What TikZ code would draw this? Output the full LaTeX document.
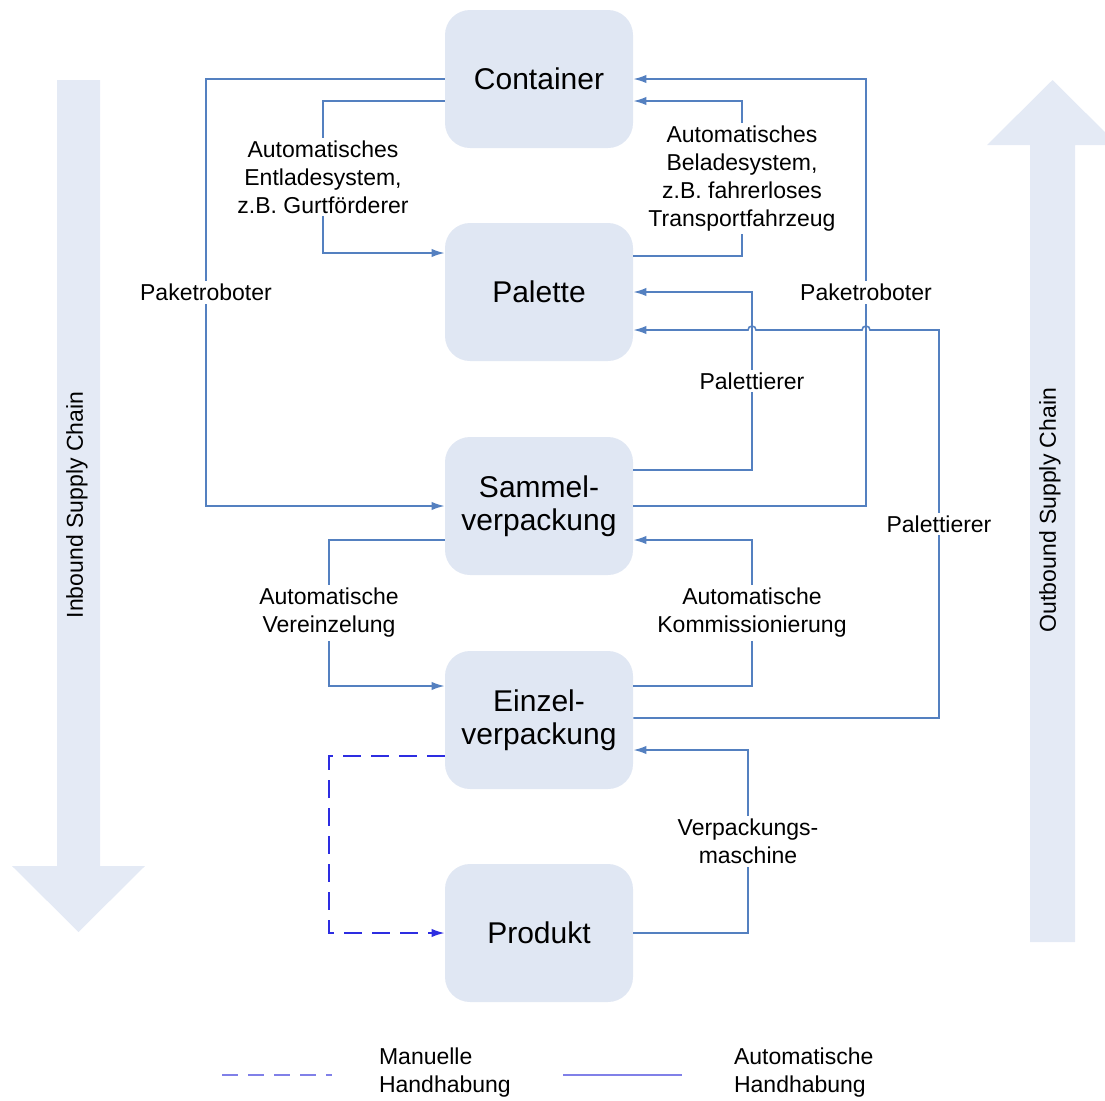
\documentclass[tikz,border=0pt]{standalone}
\usepackage{fontspec}
\setmainfont{Liberation Sans}
\usetikzlibrary{arrows.meta}
\definecolor{boxfill}{RGB}{224,231,243}
\definecolor{chainfill}{RGB}{228,234,245}
\definecolor{linkblue}{RGB}{84,128,192}
\definecolor{manblue}{RGB}{45,45,225}
\definecolor{legblue}{RGB}{128,128,232}
\tikzset{>={Latex[length=6.5pt,width=4.2pt]}}
\tikzset{
  stage/.style={rectangle, rounded corners=12.5pt, fill=boxfill,
    minimum width=94pt, minimum height=69pt, align=center,
    font=\fontsize{15}{16.5}\selectfont},
  flow/.style={->, draw=linkblue, line width=0.8pt},
  manual/.style={->, draw=manblue, line width=0.8pt, dash pattern=on 9pt off 5pt},
  tag/.style={fill=white, align=center, inner sep=1.5pt,
    font=\fontsize{11.5}{14}\selectfont},
}

\begin{document}
\begin{tikzpicture}[x=0.5pt, y=-0.5pt]
  \useasboundingbox (0,0) rectangle (1105,1100);

  % supply chain arrows
  \fill[chainfill] (57,80) -- (100,80) -- (100,866) -- (145,866) -- (78.5,932)
    -- (12,866) -- (57,866) -- cycle;
  \fill[chainfill] (1030,942) -- (1075,942) -- (1075,145) -- (1118,145) -- (1052.5,80)
    -- (987,145) -- (1030,145) -- cycle;
  \node[rotate=90, font=\fontsize{11.5}{14}\selectfont] (inbound) at (77,505) {Inbound Supply Chain};
  \node[rotate=90, font=\fontsize{11.5}{14}\selectfont] (outbound) at (1050,510) {Outbound Supply Chain};

  % stages
  \node[stage] (cont) at (539,79) {Container};
  \node[stage] (pal) at (539,292) {Palette};
  \node[stage] (sammel) at (539,506) {Sammel-\\verpackung};
  \node[stage] (einzel) at (539,720) {Einzel-\\verpackung};
  \node[stage] (prod) at (539,933) {Produkt};

  % inbound
  \draw[flow] (cont.west) -- (206,79) -- node[tag] {Paketroboter} (206,506) -- (sammel.west);
  \draw[flow] ([yshift=-11pt]cont.west) -- (323,101)
    -- node[tag] {Automatisches\\Entladesystem,\\z.B. Gurtförderer} (323,253)
    -- ([yshift=19.5pt]pal.west);
  \draw[flow] ([yshift=-17pt]sammel.west) -- (329,540)
    -- node[tag] {Automatische\\Vereinzelung} (329,686) -- ([yshift=17pt]einzel.west);
  \draw[manual] ([yshift=-18pt]einzel.west) -- (329,756) -- (329,933) -- (prod.west);

  % outbound
  \draw[flow] ([yshift=18pt]pal.east) -- (742,256)
    -- node[tag] {Automatisches\\Beladesystem,\\z.B. fahrerloses\\Transportfahrzeug} (742,101)
    -- ([yshift=-11pt]cont.east);
  \draw[flow] (sammel.east) -- (866,506) -- node[tag] {Paketroboter} (866,79) -- (cont.east);
  \draw[flow] ([yshift=18pt]sammel.east) -- (752,470) -- node[tag] {Palettierer} (752,292) -- (pal.east);
  \draw[flow] ([yshift=1pt]einzel.east) -- (939,718) -- node[tag] {Palettierer} (939,330)
    -- (870,330) arc (0:-180:4) -- (756,330) arc (0:-180:4) -- ([yshift=-19pt]pal.east);
  \draw[flow] ([yshift=17pt]einzel.east) -- (752,686)
    -- node[tag] {Automatische\\Kommissionierung} (752,540) -- ([yshift=-17pt]sammel.east);
  \draw[flow] (prod.east) -- (748,933) -- node[tag] {Verpackungs-\\maschine} (748,750)
    -- ([yshift=-15pt]einzel.east);

  % legend
  \draw[legblue, line width=0.8pt, dash pattern=on 8pt off 5pt] (222,1075) -- (332,1075);
  \node[anchor=west, align=left, font=\fontsize{11.5}{14}\selectfont] (legman) at (372,1073) {Manuelle\\Handhabung};
  \draw[legblue, line width=0.8pt] (563,1075) -- (682,1075);
  \node[anchor=west, align=left, font=\fontsize{11.5}{14}\selectfont] (legauto) at (727,1073) {Automatische\\Handhabung};
\end{tikzpicture}
\end{document}
